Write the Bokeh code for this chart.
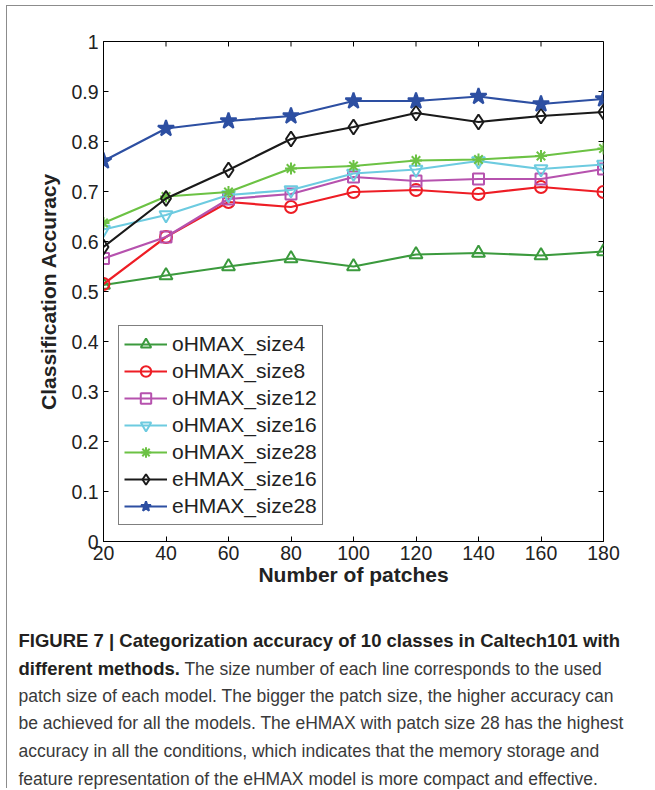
from bokeh.plotting import figure
from bokeh.layouts import column
from bokeh.models import Range1d, FixedTicker, Legend, LegendItem, Div
from bokeh.embed import file_html
from bokeh.resources import INLINE

# ---------------- data ----------------
patches = [20, 40, 60, 80, 100, 120, 140, 160, 180]
ohmax_size4 = [0.513, 0.532, 0.550, 0.566, 0.550, 0.574, 0.577, 0.572, 0.580]
ohmax_size8 = [0.515, 0.609, 0.679, 0.669, 0.699, 0.703, 0.695, 0.709, 0.699]
ohmax_size12 = [0.566, 0.609, 0.685, 0.695, 0.729, 0.721, 0.725, 0.725, 0.745]
ohmax_size16 = [0.624, 0.653, 0.693, 0.703, 0.736, 0.744, 0.761, 0.745, 0.754]
ohmax_size28 = [0.637, 0.690, 0.699, 0.746, 0.751, 0.762, 0.764, 0.771, 0.786]
ehmax_size16 = [0.589, 0.686, 0.743, 0.805, 0.829, 0.857, 0.839, 0.851, 0.859]
ehmax_size28 = [0.761, 0.826, 0.841, 0.851, 0.881, 0.881, 0.890, 0.875, 0.885]

series_names = ["oHMAX_size4", "oHMAX_size8", "oHMAX_size12", "oHMAX_size16",
                "oHMAX_size28", "eHMAX_size16", "eHMAX_size28"]
series_values = [ohmax_size4, ohmax_size8, ohmax_size12, ohmax_size16,
                 ohmax_size28, ehmax_size16, ehmax_size28]

x_ticks = [20, 40, 60, 80, 100, 120, 140, 160, 180]
x_tick_labels = ["20", "40", "60", "80", "100", "120", "140", "160", "180"]
y_ticks = [0.0, 0.1, 0.2, 0.3, 0.4, 0.5, 0.6, 0.7, 0.8, 0.9, 1.0]
y_tick_labels = ["0", "0.1", "0.2", "0.3", "0.4", "0.5", "0.6", "0.7", "0.8", "0.9", "1"]

x_label = "Number of patches"
y_label = "Classification Accuracy"

caption_bold_1 = "FIGURE 7 | Categorization accuracy of 10 classes in Caltech101 with"
caption_bold_2 = "different methods."
caption_rest_2 = "The size number of each line corresponds to the used"
caption_lines = [
    "patch size of each model. The bigger the patch size, the higher accuracy can",
    "be achieved for all the models. The eHMAX with patch size 28 has the highest",
    "accuracy in all the conditions, which indicates that the memory storage and",
    "feature representation of the eHMAX model is more compact and effective.",
]

# ---------------- styles ----------------
FONT = "Liberation Sans"
colors = ["#3b9a3d", "#ee1d25", "#b652ae", "#6dcbe0", "#6cc244", "#1a1a1a", "#2d4fa2"]
markers = ["triangle", "circle", "square", "inverted_triangle", "asterisk", "diamond", "star"]
sizes = [13, 12, 11, 13, 12, 15, 17]
fills = [None, None, None, None, None, None, "#2d4fa2"]

FIG_W = 646
CAP_H = 187

p = figure(frame_width=500, frame_height=500,
           min_border_left=96, min_border_right=50,
           min_border_top=35, min_border_bottom=60,
           x_range=Range1d(20, 180), y_range=Range1d(0, 1),
           output_backend="svg", toolbar_location=None,
           background_fill_color="white", border_fill_color="white")
p.xgrid.visible = False
p.ygrid.visible = False
p.outline_line_color = "black"
p.outline_line_width = 1

for ax in (p.xaxis[0], p.yaxis[0]):
    ax.axis_line_color = "black"
    ax.axis_line_width = 1
    ax.major_tick_in = 5
    ax.major_tick_out = 0
    ax.major_tick_line_color = "black"
    ax.minor_tick_line_color = None
    ax.major_label_text_font = FONT
    ax.major_label_text_font_size = "19.5px"
    ax.major_label_text_color = "#222222"
    ax.axis_label_text_font = FONT
    ax.axis_label_text_font_style = "bold"
    ax.axis_label_text_font_size = "21px"
    ax.axis_label_text_color = "#222222"

xa = p.xaxis[0]
xa.ticker = FixedTicker(ticks=x_ticks)
xa.major_label_overrides = {t: l for t, l in zip(x_ticks, x_tick_labels)}
xa.major_label_standoff = 4
xa.axis_label = x_label
xa.axis_label_standoff = 0

ya = p.yaxis[0]
ya.ticker = FixedTicker(ticks=y_ticks)
ya.major_label_overrides = {t: l for t, l in zip(y_ticks, y_tick_labels)}
ya.major_label_standoff = 5
ya.axis_label = y_label
ya.axis_label_standoff = 8

# inward ticks on the top and right edges of the box (MATLAB style)
x_tick_len = 5 * (180 - 20) / 500
y_tick_len = 5 * (1 - 0) / 500
p.segment(x0=x_ticks, y0=[1] * len(x_ticks), x1=x_ticks,
          y1=[1 - y_tick_len] * len(x_ticks), line_color="black", line_width=1)
p.segment(x0=[180] * len(y_ticks), y0=y_ticks, x1=[180 - x_tick_len] * len(y_ticks),
          y1=y_ticks, line_color="black", line_width=1)

items = []
for name, vals, c, m, s, f in zip(series_names, series_values, colors, markers,
                                   sizes, fills):
    lr = p.line(patches, vals, line_color=c, line_width=2.2)
    sr = p.scatter(patches, vals, marker=m, size=s,
                   line_color=c, line_width=2, fill_color=f)
    items.append(LegendItem(label=name, renderers=[lr, sr]))

legend = Legend(items=items, location=(15, 16),
                label_text_font=FONT, label_text_font_size="21px",
                label_text_color="#222222",
                glyph_width=43, glyph_height=26, label_height=26,
                spacing=1, padding=5, label_standoff=5,
                border_line_color="black", border_line_width=1,
                background_fill_color="white", background_fill_alpha=1)
p.add_layout(legend)

# ---------------- caption ----------------
line_style = "height:27.8px;line-height:27.8px;white-space:nowrap;"
bold_style = "font-weight:bold;font-size:18.5px;color:#231f20;"
reg_style = "font-size:17.5px;color:#3a3a3a;"
html_lines = [
    f'<span style="{bold_style}">{caption_bold_1}</span>',
    f'<span style="{bold_style}">{caption_bold_2}</span> '
    f'<span style="{reg_style}">{caption_rest_2}</span>',
] + [f'<span style="{reg_style}">{t}</span>' for t in caption_lines]
caption_html = (
    f'<div style="font-family:\'{FONT}\';font-size:17.5px;padding-top:26px;'
    f'padding-left:11.5px;margin:0;">'
    + "".join(f'<div style="{line_style}">{h}</div>' for h in html_lines)
    + "</div>"
)
cap = Div(text=caption_html, width=FIG_W, height=CAP_H, margin=0)

root = column(p, cap, margin=(5, 0, 0, 6),
              styles={"border-left": "1.5px solid #8c8c8c",
                      "border-top": "1.5px solid #8c8c8c"})

open("out.html", "w").write(file_html(root, INLINE))
